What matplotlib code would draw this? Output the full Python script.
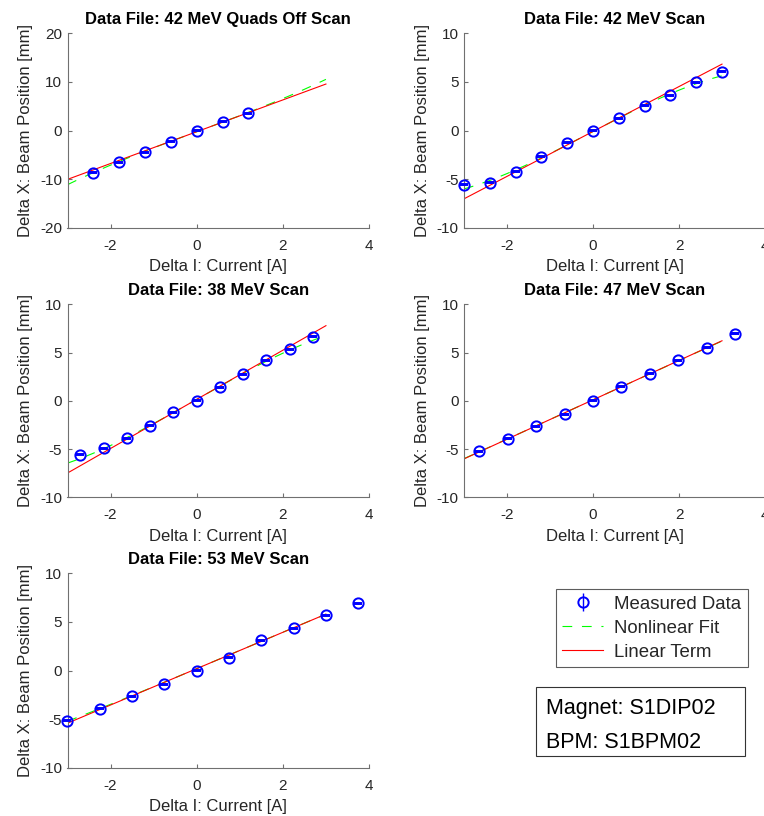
import numpy as np
import matplotlib
matplotlib.use("Agg")
import matplotlib.pyplot as plt
from matplotlib.lines import Line2D
from matplotlib.patches import Rectangle
from matplotlib.legend_handler import HandlerTuple

plt.rcParams['font.family'] = ['Liberation Sans', 'DejaVu Sans']
plt.rcParams['axes.unicode_minus'] = False
plt.rcParams['lines.scale_dashes'] = False

# ---- scan data: magnet current offset [A] vs beam position offset [mm] ----
titles = [
    "Data File: 42 MeV Quads Off Scan",
    "Data File: 42 MeV Scan",
    "Data File: 38 MeV Scan",
    "Data File: 47 MeV Scan",
    "Data File: 53 MeV Scan",
]

current_42q = [-2.4, -1.8, -1.2, -0.6, 0.0, 0.6, 1.2]
position_42q = [-8.71, -6.52, -4.46, -2.33, 0.0, 1.78, 3.57]

current_42 = [-3.0, -2.4, -1.8, -1.2, -0.6, 0.0, 0.6, 1.2, 1.8, 2.4, 3.0]
position_42 = [-5.56, -5.39, -4.22, -2.71, -1.24, 0.0, 1.27, 2.54, 3.64, 4.94, 6.04]

current_38 = [-2.7, -2.16, -1.62, -1.08, -0.54, 0.0, 0.54, 1.08, 1.62, 2.16, 2.7]
position_38 = [-5.60, -4.94, -3.90, -2.59, -1.21, 0.0, 1.38, 2.76, 4.18, 5.35, 6.63]

current_47 = [-2.64, -1.98, -1.32, -0.66, 0.0, 0.66, 1.32, 1.98, 2.64, 3.3]
position_47 = [-5.22, -3.94, -2.66, -1.38, 0.0, 1.45, 2.80, 4.21, 5.49, 6.94]

current_53 = [-3.0, -2.25, -1.5, -0.75, 0.0, 0.75, 1.5, 2.25, 3.0, 3.75]
position_53 = [-5.15, -3.91, -2.64, -1.41, 0.0, 1.30, 3.12, 4.36, 5.69, 6.93]

position_error = [0.08, 0.05, 0.05, 0.05, 0.05]

# cubic fit coefficients (c0, c1, c2, c3); the linear term uses c0 + c1*x
fit_42q = [-0.25, 3.27, -0.007, 0.038]
fit_42 = [-0.10, 2.31, -0.010, -0.041]
fit_38 = [0.15, 2.545, 0.0, -0.038]
fit_47 = [0.10, 2.04, 0.0, -0.001]
fit_53 = [0.19, 1.87, 0.0105, -0.0039]

currents = [current_42q, current_42, current_38, current_47, current_53]
positions = [position_42q, position_42, position_38, position_47, position_53]
fits = [fit_42q, fit_42, fit_38, fit_47, fit_53]
y_limits = [(-20, 20), (-10, 10), (-10, 10), (-10, 10), (-10, 10)]
y_steps = [10, 5, 5, 5, 5]

W, H = 764, 816
fig = plt.figure(figsize=(W / 100, H / 100), dpi=100)

# axes rectangles in pixels: left, top, right, bottom
boxes_px = [
    (67.5, 33.3, 369.0, 227.7),
    (464.0, 33.3, 765.0, 227.7),
    (67.5, 304.3, 369.0, 497.3),
    (464.0, 304.3, 765.0, 497.3),
    (67.5, 573.3, 369.0, 767.7),
]

axis_gray = '#707070'
text_gray = '#262626'
fit_x = np.linspace(-3, 3, 200)

for i in range(5):
    l, t, r, b = boxes_px[i]
    ax = fig.add_axes([l / W, 1 - b / H, (r - l) / W, (b - t) / H])
    c = fits[i]
    nonlinear = c[0] + c[1] * fit_x + c[2] * fit_x ** 2 + c[3] * fit_x ** 3
    linear = c[0] + c[1] * fit_x
    eb = ax.errorbar(currents[i], positions[i], yerr=position_error[i], fmt='o',
                     color='#0000ff', mfc='none', ms=7.4, mew=1.4, elinewidth=1.0,
                     capsize=2.8, capthick=1.1, zorder=3)
    for artist in eb.lines[0:1] + eb.lines[1] + eb.lines[2]:
        if artist is not None:
            artist.set_clip_on(False)
    ax.plot(fit_x, nonlinear, color='#00ff00', lw=0.8, ls=(0, (7, 7)), zorder=2)
    ax.plot(fit_x, linear, color='#ff0000', lw=0.8, zorder=2)

    ax.set_xlim(-3, 4)
    ax.set_ylim(*y_limits[i])
    ax.set_xticks([-2, 0, 2, 4])
    lo, hi = y_limits[i]
    ax.set_yticks(np.arange(lo, hi + 1, y_steps[i]))
    for side in ('top', 'right'):
        ax.spines[side].set_visible(False)
    for side in ('left', 'bottom'):
        ax.spines[side].set_color(axis_gray)
        ax.spines[side].set_linewidth(0.8)
    ax.tick_params(direction='in', length=3, width=0.8, color=axis_gray,
                   labelcolor=text_gray, labelsize=11)
    ax.tick_params(axis='x', pad=8)
    ax.tick_params(axis='y', pad=4)
    ax.set_title(titles[i], fontsize=12, fontweight='bold', pad=7, color='black')
    ax.set_xlabel("Delta I: Current [A]", fontsize=12, color=text_gray, labelpad=4.5)
    ax.set_ylabel("Delta X: Beam Position [mm]", fontsize=12, color=text_gray, labelpad=5)

# legend with proxy handles
meas_circle = Line2D([], [], ls='none', marker='o', ms=7.4, mfc='none', mec='#0000ff', mew=1.4)
meas_bar = Line2D([], [], ls='none', marker='|', ms=13, mec='#0000ff', mew=1.0)
nl_handle = Line2D([], [], color='#00ff00', lw=0.8, ls=(0, (7, 7)))
lin_handle = Line2D([], [], color='#ff0000', lw=0.8)
leg = fig.legend([(meas_bar, meas_circle), nl_handle, lin_handle],
                 ["Measured Data", "Nonlinear Fit", "Linear Term"],
                 handler_map={tuple: HandlerTuple(ndivide=1)},
                 loc='upper left', bbox_to_anchor=(555.7 / W, 1 - 589 / H),
                 bbox_transform=fig.transFigure, borderaxespad=0,
                 fontsize=13.4, frameon=True, fancybox=False,
                 handlelength=2.2, handletextpad=0.6, labelspacing=0.38,
                 borderpad=0.35)
leg.get_frame().set_edgecolor('#333333')
leg.get_frame().set_linewidth(0.8)
for txt in leg.get_texts():
    txt.set_color(text_gray)

# magnet / BPM annotation box
fig.patches.append(Rectangle((536 / W, 1 - 756 / H), (745 - 536) / W, (756 - 687) / H,
                             transform=fig.transFigure, fill=False,
                             edgecolor='#333333', linewidth=0.8))
fig.text(546 / W, 1 - 714 / H, "Magnet: S1DIP02", fontsize=15.5, va='baseline', color='black')
fig.text(546 / W, 1 - 748 / H, "BPM: S1BPM02", fontsize=15.5, va='baseline', color='black')

fig.savefig("out.png", dpi=100)
